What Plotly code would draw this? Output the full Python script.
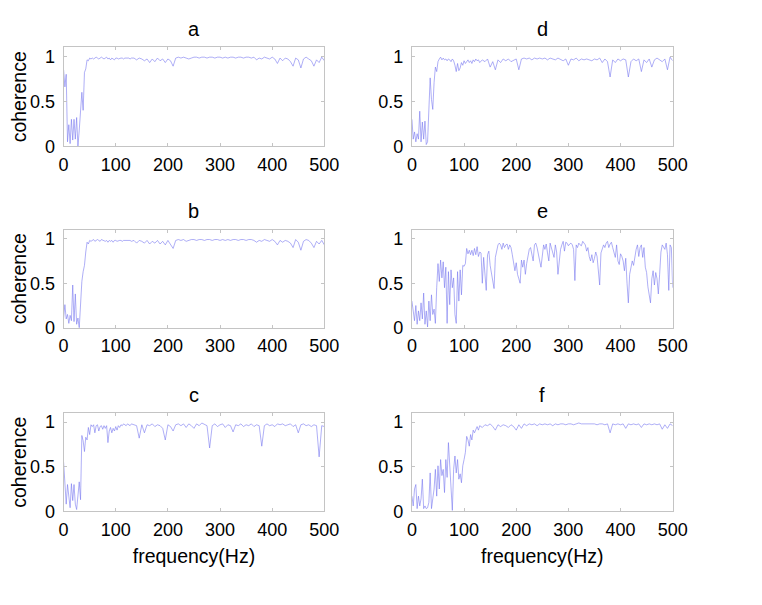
import numpy as np
import plotly.graph_objects as go

# frequency grids (Hz)
freq_low = np.arange(0, 130.1, 2.5)           # 2.5 Hz steps up to 130 Hz
freq_high = np.arange(135, 500.1, 5)          # 5 Hz steps after
freq = np.concatenate([freq_low, freq_high])  # grid used by panels a-d, f
freq_e = np.arange(0, 500.1, 2.5)             # finer grid for the noisy panel e

panel_labels = ["a", "b", "c", "d", "e", "f"]
x_tick_vals = [0, 100, 200, 300, 400, 500]
y_tick_vals = [0, 0.5, 1]
y_tick_text = ["0", "0.5", "1"]

coh_a = [0.85, 0.66, 0.80, 0.05, 0.24, 0.03, 0.30, 0.07, 0.30, 0.08, 0.32, 0.00, 0.18, 0.35, 0.60, 0.40, 0.82, 0.86, 0.96, 0.95,
         0.98, 0.97, 0.98, 0.97, 0.98, 0.99, 0.98, 0.97, 0.98, 0.99, 0.98, 0.97, 0.98, 0.99, 0.97, 0.98, 0.96, 0.98, 0.97, 0.96,
         0.98, 0.98, 0.97, 0.98, 0.98, 0.98, 0.97, 0.98, 0.98, 0.98, 0.98, 0.97, 0.98,
         0.98, 0.96, 0.98, 0.97, 0.95, 0.97, 0.93, 0.97, 0.94, 0.98, 0.95, 0.97, 0.93, 0.97, 0.95, 0.89, 0.98, 0.99, 0.98, 0.99,
         0.98, 0.97, 0.98, 0.99, 0.99, 0.98, 0.99, 0.99, 0.98, 0.99, 0.99, 0.98, 0.99, 0.99, 0.98, 0.99, 0.98, 0.99, 0.99, 0.98,
         0.99, 0.99, 0.98, 0.99, 0.99, 0.98, 0.99, 0.96, 0.98, 0.97, 0.99, 0.98, 0.97, 0.99, 0.97, 0.92, 0.98, 0.95, 0.98, 0.97,
         0.94, 0.89, 0.98, 0.96, 0.87, 0.97, 0.99, 0.97, 0.95, 0.89, 0.96, 0.93, 0.99, 0.95]

coh_b = [0.11, 0.26, 0.10, 0.15, 0.05, 0.14, 0.08, 0.48, 0.07, 0.38, 0.04, 0.11, 0.00, 0.26, 0.52, 0.63, 0.70, 0.85, 0.96, 0.94,
         0.98, 0.97, 0.98, 0.99, 0.97, 0.98, 0.99, 0.98, 0.97, 0.99, 0.98, 0.98, 0.97, 0.98, 0.96, 0.98, 0.97, 0.98, 0.96, 0.98,
         0.98, 0.97, 0.98, 0.98, 0.98, 0.97, 0.98, 0.98, 0.98, 0.98, 0.98, 0.98, 0.97,
         0.98, 0.95, 0.98, 0.97, 0.95, 0.98, 0.94, 0.97, 0.95, 0.98, 0.94, 0.97, 0.93, 0.98, 0.94, 0.89, 0.98, 0.99, 0.98, 0.99,
         0.97, 0.98, 0.99, 0.99, 0.98, 0.99, 0.99, 0.98, 0.99, 0.99, 0.98, 0.99, 0.99, 0.98, 0.99, 0.98, 0.99, 0.98, 0.99, 0.99,
         0.98, 0.99, 0.99, 0.98, 0.99, 0.99, 0.98, 0.96, 0.98, 0.97, 0.99, 0.98, 0.97, 0.99, 0.97, 0.93, 0.98, 0.96, 0.98, 0.97,
         0.95, 0.90, 0.99, 0.96, 0.87, 0.97, 0.99, 0.98, 0.95, 0.90, 0.97, 0.94, 0.98, 0.93]

coh_c = [0.55, 0.33, 0.08, 0.30, 0.12, 0.04, 0.31, 0.12, 0.30, 0.08, 0.02, 0.19, 0.33, 0.13, 0.85, 0.79, 0.67, 0.83, 0.80, 0.94,
         0.86, 0.97, 0.95, 0.97, 0.88, 0.96, 0.97, 0.90, 0.95, 0.96, 0.92, 0.96, 0.93, 0.96, 0.77, 0.90, 0.94, 0.88, 0.93, 0.90,
         0.95, 0.91, 0.96, 0.94, 0.97, 0.96, 0.98, 0.97, 0.96, 0.98, 0.97, 0.96, 0.98,
         0.97, 0.96, 0.82, 0.97, 0.88, 0.97, 0.96, 0.98, 0.95, 0.97, 0.96, 0.93, 0.80, 0.97, 0.95, 0.90, 0.97, 0.98, 0.96, 0.98,
         0.94, 0.98, 0.96, 0.93, 0.98, 0.96, 0.99, 0.97, 0.96, 0.71, 0.96, 0.98, 0.95, 0.97, 0.98, 0.94, 0.97, 0.96, 0.89, 0.97,
         0.96, 0.98, 0.95, 0.97, 0.96, 0.98, 0.95, 0.97, 0.96, 0.73, 0.96, 0.98, 0.96, 0.97, 0.95, 0.98, 0.97, 0.98, 0.96, 0.97,
         0.98, 0.95, 0.97, 0.88, 0.97, 0.98, 0.96, 0.97, 0.95, 0.97, 0.96, 0.61, 0.96, 0.95]

coh_d = [0.30, 0.08, 0.16, 0.05, 0.14, 0.08, 0.39, 0.05, 0.27, 0.08, 0.28, 0.02, 0.05, 0.34, 0.76, 0.52, 0.41, 0.71, 0.88, 0.83,
         0.94, 0.97, 0.99, 0.96, 0.98, 0.96, 0.97, 0.95, 0.97, 0.96, 0.94, 0.97, 0.95, 0.90, 0.83, 0.92, 0.84, 0.87, 0.93, 0.90,
         0.95, 0.92, 0.94, 0.96, 0.93, 0.95, 0.92, 0.96, 0.94, 0.97, 0.95, 0.96, 0.93,
         0.96, 0.94, 0.97, 0.88, 0.94, 0.85, 0.96, 0.93, 0.97, 0.95, 0.97, 0.94, 0.96, 0.97, 0.85, 0.97, 0.98, 0.97, 0.98, 0.96,
         0.98, 0.97, 0.98, 0.97, 0.98, 0.96, 0.98, 0.97, 0.96, 0.98, 0.96, 0.95, 0.97, 0.90, 0.97, 0.96, 0.98, 0.95, 0.97, 0.96,
         0.97, 0.96, 0.95, 0.97, 0.96, 0.98, 0.93, 0.97, 0.94, 0.77, 0.96, 0.93, 0.97, 0.95, 0.97, 0.96, 0.77, 0.94, 0.97, 0.95,
         0.97, 0.83, 0.96, 0.93, 0.97, 0.88, 0.96, 0.98, 0.96, 0.94, 0.97, 0.85, 0.99, 0.95]

# panel e on the finer 2.5 Hz grid
coh_e = [0.30, 0.19, 0.08, 0.25, 0.04, 0.19, 0.08, 0.28, 0.10, 0.39, 0.04, 0.19, 0.01, 0.30, 0.08, 0.37, 0.15, 0.21, 0.05, 0.45,
         0.72, 0.52, 0.76, 0.56, 0.74, 0.45, 0.68, 0.05, 0.63, 0.26, 0.65, 0.45, 0.56, 0.15, 0.05, 0.63, 0.30, 0.65, 0.37, 0.70,
         0.69, 0.72, 0.89, 0.83, 0.87, 0.82, 0.87, 0.81, 0.89, 0.82, 0.91, 0.80, 0.85,
         0.84, 0.50, 0.79, 0.60, 0.42, 0.82, 0.86, 0.70, 0.60, 0.52,
         0.44, 0.79, 0.88, 0.93, 0.95, 0.93, 0.88, 0.95, 0.90, 0.93,
         0.94, 0.88, 0.93, 0.90, 0.82, 0.75, 0.64, 0.73, 0.60, 0.55,
         0.50, 0.76, 0.68, 0.76, 0.60, 0.72, 0.80, 0.88, 0.90, 0.82,
         0.75, 0.93, 0.95, 0.90, 0.80, 0.75, 0.68, 0.85, 0.93, 0.88,
         0.94, 0.84, 0.75, 0.95, 0.90, 0.85, 0.79, 0.93, 0.85, 0.60,
         0.75, 0.88, 0.93, 0.97, 0.86, 0.96, 0.95, 0.92, 0.94, 0.95,
         0.93, 0.88, 0.53, 0.93, 0.90, 0.95, 0.93, 0.92, 0.97, 0.95,
         0.93, 0.86, 0.90, 0.80, 0.75, 0.82, 0.73, 0.78, 0.85, 0.80,
         0.60, 0.48, 0.84, 0.88, 0.93, 0.90, 0.95, 0.97, 0.90, 0.94,
         0.96, 0.90, 0.85, 0.79, 0.93, 0.75, 0.71, 0.83, 0.80, 0.75,
         0.64, 0.78, 0.50, 0.28, 0.60, 0.68, 0.75, 0.70, 0.80, 0.88,
         0.93, 0.80, 0.90, 0.93, 0.79, 0.90, 0.68, 0.62, 0.46, 0.35,
         0.28, 0.55, 0.64, 0.48, 0.62, 0.55, 0.38, 0.60, 0.85, 0.93,
         0.90, 0.88, 0.95, 0.82, 0.42, 0.93, 0.90, 0.45]

coh_f = [0.17, 0.06, 0.25, 0.30, 0.03, 0.17, 0.06, 0.14, 0.36, 0.03, 0.06, 0.03, 0.04, 0.10, 0.43, 0.03, 0.14, 0.25, 0.47, 0.17,
         0.51, 0.25, 0.58, 0.40, 0.47, 0.21, 0.58, 0.38, 0.77, 0.54, 0.25, 0.01, 0.47, 0.62, 0.43, 0.58, 0.36, 0.42, 0.32, 0.51,
         0.58, 0.66, 0.84, 0.80, 0.73, 0.86, 0.80, 0.91, 0.88, 0.93, 0.95, 0.91, 0.96,
         0.94, 0.97, 0.96, 0.98, 0.95, 0.91, 0.97, 0.95, 0.97, 0.96, 0.94, 0.97, 0.95, 0.91, 0.97, 0.93, 0.98, 0.96, 0.98, 0.97,
         0.98, 0.96, 0.98, 0.97, 0.98, 0.97, 0.98, 0.96, 0.98, 0.97, 0.98, 0.98, 0.97, 0.98, 0.98, 0.97, 0.98, 0.99, 0.98, 0.98,
         0.98, 0.98, 0.98, 0.98, 0.97, 0.98, 0.98, 0.97, 0.98, 0.88, 0.98, 0.97, 0.98, 0.97, 0.98, 0.93, 0.98, 0.97, 0.98, 0.97,
         0.98, 0.94, 0.98, 0.97, 0.98, 0.97, 0.98, 0.97, 0.98, 0.92, 0.97, 0.93, 0.98, 0.96]

series = [(freq, coh_a), (freq, coh_b), (freq, coh_c), (freq, coh_d), (freq_e, coh_e), (freq, coh_f)]
for fx, s in series:
    assert len(s) == len(fx), (len(s), len(fx))

# the page body has an 8px margin; keep the figure inside the window
OFF = 8
W, H = 740, 580
# panel pixel boxes in window coordinates (left, right) and (top, bottom)
cols = [(60, 328), (418, 686)]
rows = [(47, 148), (233, 333), (420, 520)]


def px_x(p):
    return (p - OFF) / W


def px_y(p):
    return 1 - (p - OFF) / H


FONT = "Liberation Sans, Arial, sans-serif"
AXC = "#c4c4c4"
LINE = "rgb(120,120,240)"

fig = go.Figure()
layout = dict(
    width=W, height=H,
    margin=dict(l=0, r=0, t=0, b=0),
    paper_bgcolor="white", plot_bgcolor="white",
    showlegend=False,
    font=dict(family=FONT, size=18, color="black"),
    annotations=[],
)

for i, (lab, (fx, vals)) in enumerate(zip(panel_labels, series)):
    c = i // 3
    r = i % 3
    l, rr = cols[c]
    t, b = rows[r]
    k = i + 1
    xa = "x" if k == 1 else f"x{k}"
    ya = "y" if k == 1 else f"y{k}"
    fig.add_trace(go.Scatter(x=fx, y=vals, mode="lines",
                             line=dict(color=LINE, width=0.6),
                             xaxis=xa, yaxis=ya, hoverinfo="skip"))
    xkey = "xaxis" if k == 1 else f"xaxis{k}"
    ykey = "yaxis" if k == 1 else f"yaxis{k}"
    axis_common = dict(showgrid=False, zeroline=False, showline=True, mirror="ticks",
                       linecolor=AXC, linewidth=1, ticks="inside", ticklen=3,
                       tickcolor=AXC, tickwidth=1,
                       tickfont=dict(family=FONT, size=18, color="black"))
    layout[xkey] = dict(domain=[px_x(l), px_x(rr)], anchor=ya, range=[0, 500],
                        tickvals=x_tick_vals, ticklabelstandoff=2,
                        **axis_common)
    if r == 2:
        layout[xkey]["title"] = dict(text="frequency(Hz)", standoff=10,
                                     font=dict(family=FONT, size=19.5, color="black"))
    layout[ykey] = dict(domain=[px_y(b), px_y(t)], anchor=xa, range=[0, 1.1],
                        tickvals=y_tick_vals, ticktext=y_tick_text, ticklabelstandoff=4,
                        **axis_common)
    if c == 0:
        layout[ykey]["title"] = dict(text="coherence", standoff=6,
                                     font=dict(family=FONT, size=19.5, color="black"))
    layout["annotations"].append(dict(
        text=lab, xref="paper", yref="paper",
        x=px_x((l + rr) / 2), y=px_y(t - 19),
        xanchor="center", yanchor="middle", showarrow=False,
        font=dict(family=FONT, size=20, color="black")))

fig.update_layout(**layout)
fig.write_html("out.html")
